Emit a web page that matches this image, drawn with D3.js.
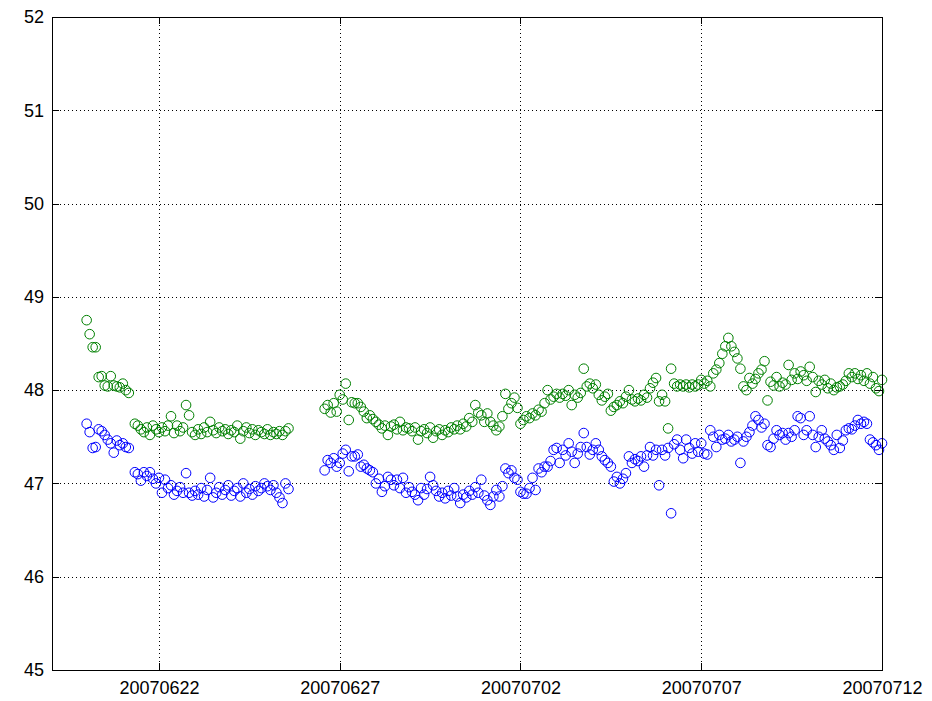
<!DOCTYPE html>
<html>
<head>
<meta charset="utf-8">
<script src="https://cdn.jsdelivr.net/npm/d3@7/dist/d3.min.js"></script>
<style>
  html, body { margin: 0; padding: 0; background: #fff; }
  svg { display: block; }
  .tick text { font-family: "Liberation Sans", Arial, Helvetica, sans-serif; font-size: 18px; fill: #000; }
</style>
</head>
<body>
<div id="chart"></div>
<script>
// Two sensor series sampled every two hours, with an outage around 25-26 June.
const sampleStepHours = 2;

const run1Start = [2007, 5, 20, 0];   // 20 June 2007, 00:00
const run1Green = [
  48.75, 48.60, 48.46, 48.46, 48.14, 48.15, 48.05, 48.04, 48.15, 48.05,
  48.04, 48.03, 48.07, 48.00, 47.97, null, 47.64, 47.62, 47.58, 47.55,
  47.60, 47.52, 47.62, 47.58, 47.55, 47.60, 47.56, 47.62, 47.72, 47.54,
  47.62, 47.56, 47.60, 47.84, 47.73, 47.55, 47.52, 47.58, 47.53, 47.60,
  47.55, 47.66, 47.57, 47.54, 47.60, 47.56, 47.58, 47.53, 47.57, 47.55,
  47.62, 47.48, 47.56, 47.60, 47.54, 47.58, 47.52, 47.57, 47.55, 47.53,
  47.58, 47.52, 47.55, 47.53, 47.56, 47.52, 47.56, 47.59
];
const run1Blue = [
  47.64, 47.55, 47.38, 47.39, 47.58, 47.56, 47.52, 47.47, 47.43, 47.33,
  47.46, 47.41, 47.43, 47.39, 47.38, null, 47.12, 47.10, 47.03, 47.12,
  47.08, 47.12, 47.05, 47.00, 47.06, 46.90, 47.04, 46.95, 46.98, 46.88,
  46.92, 46.96, 46.90, 47.11, 46.90, 46.87, 46.92, 46.88, 46.95, 46.86,
  46.93, 47.06, 46.85, 46.90, 46.96, 46.88, 46.93, 46.98, 46.87, 46.92,
  46.95, 46.86, 47.00, 46.90, 46.94, 46.88, 46.97, 46.92, 46.95, 47.00,
  46.97, 46.93, 46.98, 46.90, 46.85, 46.79, 47.00, 46.94
];

const run2Start = [2007, 5, 26, 14]; // 26 June 2007, 14:00
const run2Green = [
  47.80, 47.84, 47.76, 47.86, 47.77, 47.95, 47.90, 48.07, 47.68, 47.87,
  47.86, 47.86, 47.82, 47.77, 47.70, 47.73, 47.69, 47.66, 47.63, 47.59,
  47.62, 47.52, 47.61, 47.63, 47.58, 47.66, 47.57, 47.60, 47.59, 47.56,
  47.60, 47.47, 47.56, 47.58, 47.54, 47.60, 47.49, 47.56, 47.58, 47.52,
  47.57, 47.55, 47.60, 47.58, 47.62, 47.58, 47.64, 47.61, 47.70, 47.66,
  47.84, 47.76, 47.73, 47.66, 47.75, 47.66, 47.62, 47.57, 47.61, 47.72,
  47.96, 47.80, 47.86, 47.92, 47.81, 47.64, 47.68, 47.72, 47.70, 47.75,
  47.73, 47.79, 47.77, 47.86, 48.00, 47.90, 47.93, 47.96, 47.92, 47.96,
  47.94, 48.00, 47.84, 47.95, 47.92, 47.97, 48.23, 48.04, 48.07, 48.02,
  48.06, 47.95, 47.89, 47.93, 47.96, 47.78, 47.82, 47.84, 47.88, 47.86,
  47.93, 48.00, 47.90, 47.88, 47.91, 47.89, 47.95, 47.92, 48.02, 48.08,
  48.13, 47.88, 47.95, 47.88, 47.59, 48.23, 48.07, 48.04, 48.06, 48.04,
  48.06, 48.03, 48.06, 48.04, 48.06, 48.11, 48.07, 48.10, 48.04, 48.18,
  48.22, 48.29, 48.39, 48.47, 48.56, 48.47, 48.41, 48.34, 48.23, 48.04,
  48.00, 48.13, 48.07, 48.12, 48.18, 48.22, 48.31, 47.89, 48.09, 48.05,
  48.14, 48.04, 48.08, 48.06, 48.27, 48.11, 48.18, 48.12, 48.20, 48.16,
  48.10, 48.25, 48.14, 47.98, 48.10, 48.06, 48.11, 48.02, 48.07, 48.00,
  48.03, 48.04, 48.06, 48.10, 48.18, 48.14, 48.18, 48.12, 48.16, 48.10,
  48.18, 48.07, 48.14, 48.02, 47.99, 48.11
];
const run2Blue = [
  47.14, 47.25, 47.22, 47.27, 47.18, 47.22, 47.32, 47.36, 47.13, 47.29,
  47.29, 47.31, 47.18, 47.20, 47.16, 47.14, 47.12, 47.00, 47.05, 46.91,
  46.97, 47.07, 47.04, 46.98, 47.04, 46.95, 47.06, 46.90, 46.96, 46.91,
  46.88, 46.82, 46.95, 46.88, 46.94, 47.07, 46.98, 46.92, 46.86, 46.90,
  46.84, 46.92, 46.87, 46.95, 46.86, 46.79, 46.88, 46.85, 46.92, 46.88,
  46.96, 46.90, 47.04, 46.87, 46.82, 46.77, 46.86, 46.93, 46.86, 46.97,
  47.16, 47.11, 47.14, 47.06, 47.04, 46.91, 46.89, 46.89, 46.95, 47.06,
  46.93, 47.16, 47.12, 47.18, 47.18, 47.24, 47.36, 47.38, 47.22, 47.36,
  47.30, 47.43, 47.34, 47.22, 47.32, 47.39, 47.54, 47.39, 47.31, 47.36,
  47.43, 47.36, 47.29, 47.25, 47.22, 47.18, 47.02, 47.07, 47.00, 47.05,
  47.11, 47.29, 47.22, 47.26, 47.24, 47.29, 47.18, 47.30, 47.39, 47.30,
  47.36, 46.98, 47.36, 47.30, 47.38, 46.68, 47.42, 47.47, 47.36, 47.27,
  47.47, 47.38, 47.32, 47.43, 47.34, 47.43, 47.32, 47.31, 47.57, 47.50,
  47.39, 47.52, 47.47, 47.48, 47.52, 47.45, 47.47, 47.50, 47.22, 47.45,
  47.50, 47.55, 47.62, 47.72, 47.68, 47.60, 47.64, 47.41, 47.39, 47.48,
  47.57, 47.52, 47.54, 47.47, 47.54, 47.50, 47.57, 47.72, 47.70, 47.52,
  47.57, 47.72, 47.52, 47.39, 47.50, 47.57, 47.48, 47.45, 47.41, 47.36,
  47.52, 47.38, 47.46, 47.57, 47.59, 47.58, 47.62, 47.68, 47.64, 47.66,
  47.64, 47.47, 47.44, 47.41, 47.36, 47.43
];

const yTickValues = [45, 46, 47, 48, 49, 50, 51, 52];
const xTickLabels = ["20070622", "20070627", "20070702", "20070707", "20070712"];

const seriesColors = { green: "#008000", blue: "#0000ff" };

// ---- layout ----
const W = 932, H = 701;
const plot = { left: 52, right: 882, top: 17, bottom: 670 };

const parseLabel = d3.timeParse("%Y%m%d");
const x = d3.scaleTime()
  .domain([new Date(2007, 5, 19, 1, 0), new Date(2007, 6, 12, 0, 0)])
  .range([plot.left, plot.right]);
const y = d3.scaleLinear().domain([45, 52]).range([plot.bottom, plot.top]);

function toPoints(start, values) {
  const t0 = new Date(start[0], start[1], start[2], start[3]);
  return values.map((v, i) => ({ t: d3.timeHour.offset(t0, i * sampleStepHours), v }))
               .filter(d => d.v !== null);
}

const greenPts = toPoints(run1Start, run1Green).concat(toPoints(run2Start, run2Green));
const bluePts  = toPoints(run1Start, run1Blue).concat(toPoints(run2Start, run2Blue));

const svg = d3.select("#chart").append("svg").attr("width", W).attr("height", H);

const xTickDates = xTickLabels.map(parseLabel);
const fmt = d3.timeFormat("%Y%m%d");
const plotW = plot.right - plot.left, plotH = plot.bottom - plot.top;

// dotted grid
const grid = svg.append("g").attr("class", "grid");
grid.append("g")
  .attr("transform", `translate(0,${plot.bottom})`)
  .call(d3.axisBottom(x).tickValues(xTickDates).tickSize(-plotH).tickFormat(""))
  .call(g => g.select(".domain").remove());
grid.append("g")
  .attr("transform", `translate(${plot.left},0)`)
  .call(d3.axisLeft(y).tickValues(yTickValues).tickSize(-plotW).tickFormat(""))
  .call(g => g.select(".domain").remove());
grid.selectAll("line")
  .attr("stroke", "#000")
  .attr("stroke-width", 1)
  .attr("stroke-dasharray", "1,3")
  .attr("shape-rendering", "crispEdges");

// markers
function drawSeries(pts, color) {
  svg.append("g")
    .selectAll("circle")
    .data(pts)
    .join("circle")
    .attr("cx", d => x(d.t))
    .attr("cy", d => y(d.v))
    .attr("r", 4.8)
    .attr("fill", "none")
    .attr("stroke", color)
    .attr("stroke-width", 1);
}
drawSeries(greenPts, seriesColors.green);
drawSeries(bluePts, seriesColors.blue);

// axes with inward ticks on all four sides
const tickLen = 7;
const axB = svg.append("g").attr("transform", `translate(0,${plot.bottom})`)
  .call(d3.axisBottom(x).tickValues(xTickDates).tickFormat(fmt).tickSizeInner(-tickLen).tickSizeOuter(0).tickPadding(11));
const axT = svg.append("g").attr("transform", `translate(0,${plot.top})`)
  .call(d3.axisTop(x).tickValues(xTickDates).tickFormat("").tickSizeInner(-tickLen).tickSizeOuter(0));
const axL = svg.append("g").attr("transform", `translate(${plot.left},0)`)
  .call(d3.axisLeft(y).tickValues(yTickValues).tickFormat(d3.format("d")).tickSizeInner(-tickLen).tickSizeOuter(0).tickPadding(8));
const axR = svg.append("g").attr("transform", `translate(${plot.right},0)`)
  .call(d3.axisRight(y).tickValues(yTickValues).tickFormat("").tickSizeInner(-tickLen).tickSizeOuter(0));

[axB, axT, axL, axR].forEach(a => {
  a.selectAll(".domain").attr("stroke", "#000").attr("shape-rendering", "crispEdges");
  a.selectAll(".tick line").attr("stroke", "#000").attr("shape-rendering", "crispEdges");
  a.attr("font-family", null).attr("font-size", null);
});
</script>
</body>
</html>
